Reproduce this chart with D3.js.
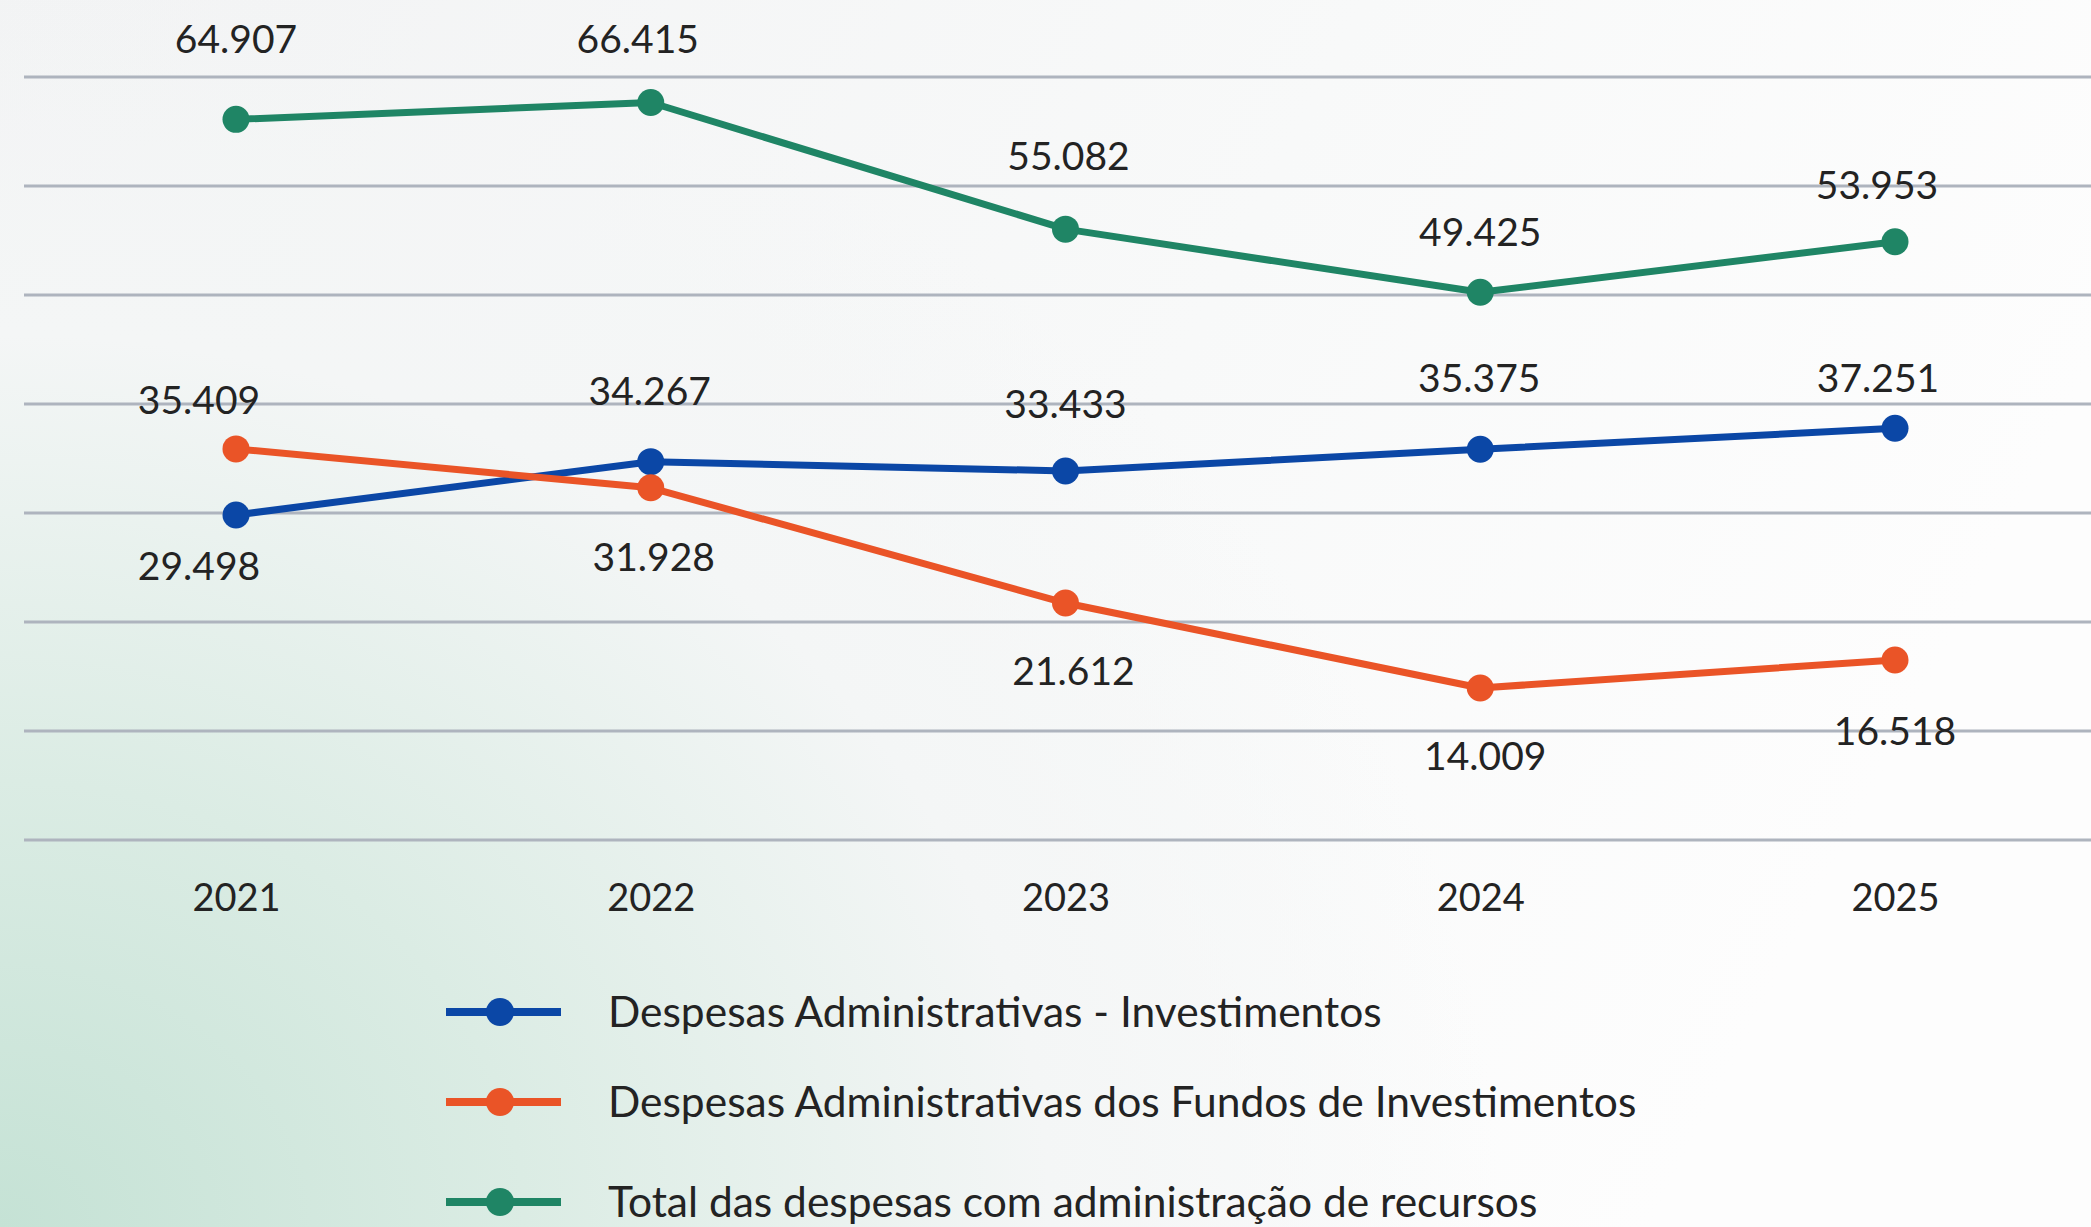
<!DOCTYPE html>
<html>
<head>
<meta charset="utf-8">
<script src="https://cdn.jsdelivr.net/npm/d3@7"></script>
<style>
  html, body { margin: 0; padding: 0; background: #f7f8f8; }
  svg { display: block; }
  text { font-family: Lato, "Open Sans", sans-serif; fill: #232323; }
</style>
</head>
<body>
<svg id="chart" width="2091" height="1227"></svg>
<script>
// ---- data ----
const years = ["2021", "2022", "2023", "2024", "2025"];
const seriesNames = [
  "Despesas Administrativas - Investimentos",
  "Despesas Administrativas dos Fundos de Investimentos",
  "Total das despesas com administração de recursos"
];
const adminInvest = [29.498, 34.267, 33.433, 35.375, 37.251];
const adminFundos = [35.409, 31.928, 21.612, 14.009, 16.518];
const totalDespesas = [64.907, 66.415, 55.082, 49.425, 53.953];

// ---- styling / layout ----
const colors = ["#0b47a6", "#ea5427", "#1f8565"];
const W = 2091, H = 1227;
const fmt = v => v.toFixed(3);

// label offsets (px) relative to each point
const labelOffsets = [
  [[-37, 51], [-1, -71], [0, -67], [-1, -71], [-17, -50]],
  [[-37, -49], [3, 69], [8, 68], [5, 68], [0, 71]],
  [[0, -80], [-13, -64], [3, -73], [0, -60], [-18, -57]]
];

const svg = d3.select("#chart");

// background
const defs = svg.append("defs");
const rg = defs.append("radialGradient").attr("id", "bgGreen")
  .attr("gradientUnits", "userSpaceOnUse")
  .attr("cx", 0).attr("cy", H).attr("r", 1500)
  .attr("gradientTransform", `translate(0,${H}) scale(1,0.85) translate(0,${-H})`);
rg.append("stop").attr("offset", "0%").attr("stop-color", "#c5e2d5");
rg.append("stop").attr("offset", "35%").attr("stop-color", "#dbece4");
rg.append("stop").attr("offset", "70%").attr("stop-color", "#f4f6f6");
rg.append("stop").attr("offset", "100%").attr("stop-color", "#f4f6f6").attr("stop-opacity", 0);
const lg = defs.append("linearGradient").attr("id", "bgBase")
  .attr("x1", 0).attr("y1", 0).attr("x2", 1).attr("y2", 0.3);
lg.append("stop").attr("offset", "0%").attr("stop-color", "#f2f3f4");
lg.append("stop").attr("offset", "60%").attr("stop-color", "#f8f9f9");
lg.append("stop").attr("offset", "100%").attr("stop-color", "#fdfdfd");

svg.append("rect").attr("width", W).attr("height", H).attr("fill", "url(#bgBase)");
svg.append("rect").attr("width", W).attr("height", H).attr("fill", "url(#bgGreen)");

// scales
const x = d3.scalePoint().domain(years).range([236, 1895]);
const y = d3.scaleLinear().domain([0.4, 68.7]).range([840, 77]);

// gridlines: 8 evenly spaced lines over the domain
const [d0, d1] = y.domain();
const gridVals = d3.range(8).map(i => d0 + i * (d1 - d0) / 7);
svg.append("g").selectAll("line").data(gridVals).join("line")
  .attr("x1", 24).attr("x2", W)
  .attr("y1", d => y(d)).attr("y2", d => y(d))
  .attr("stroke", "#aeb4be").attr("stroke-width", 3);

// x axis labels
const xAxis = d3.axisBottom(x).tickSize(0).tickPadding(0);
const gx = svg.append("g").attr("transform", "translate(0,897)").call(xAxis);
gx.select(".domain").remove();
gx.selectAll("text").attr("font-size", 38).attr("dy", "0.36em")
  .attr("fill", "#232323").style("font-family", "Lato, sans-serif");

// series
const allSeries = [adminInvest, adminFundos, totalDespesas];
const line = d3.line().x((d, i) => x(years[i])).y(d => y(d));

allSeries.forEach((vals, s) => {
  const g = svg.append("g");
  g.append("path").datum(vals).attr("d", line)
    .attr("fill", "none").attr("stroke", colors[s]).attr("stroke-width", 7)
    .attr("stroke-linejoin", "round");
  g.selectAll("circle").data(vals).join("circle")
    .attr("cx", (d, i) => x(years[i])).attr("cy", d => y(d))
    .attr("r", 13.5).attr("fill", colors[s]);
  g.selectAll("text").data(vals).join("text")
    .attr("x", (d, i) => x(years[i]) + labelOffsets[s][i][0])
    .attr("y", (d, i) => y(d) + labelOffsets[s][i][1])
    .attr("dy", "0.36em").attr("text-anchor", "middle")
    .attr("font-size", 39)
    .text(d => fmt(d));
});

// legend
const legendY = [1012, 1102, 1202];
const lgG = svg.append("g");
seriesNames.forEach((name, s) => {
  const row = lgG.append("g").attr("transform", `translate(0,${legendY[s]})`);
  row.append("line").attr("x1", 446).attr("x2", 561).attr("y1", 0).attr("y2", 0)
    .attr("stroke", colors[s]).attr("stroke-width", 8);
  row.append("circle").attr("cx", 500).attr("cy", 0).attr("r", 14).attr("fill", colors[s]);
  row.append("text").attr("x", 608).attr("y", 0).attr("dy", "0.36em")
    .attr("font-size", 42.5).text(name);
});
</script>
</body>
</html>
